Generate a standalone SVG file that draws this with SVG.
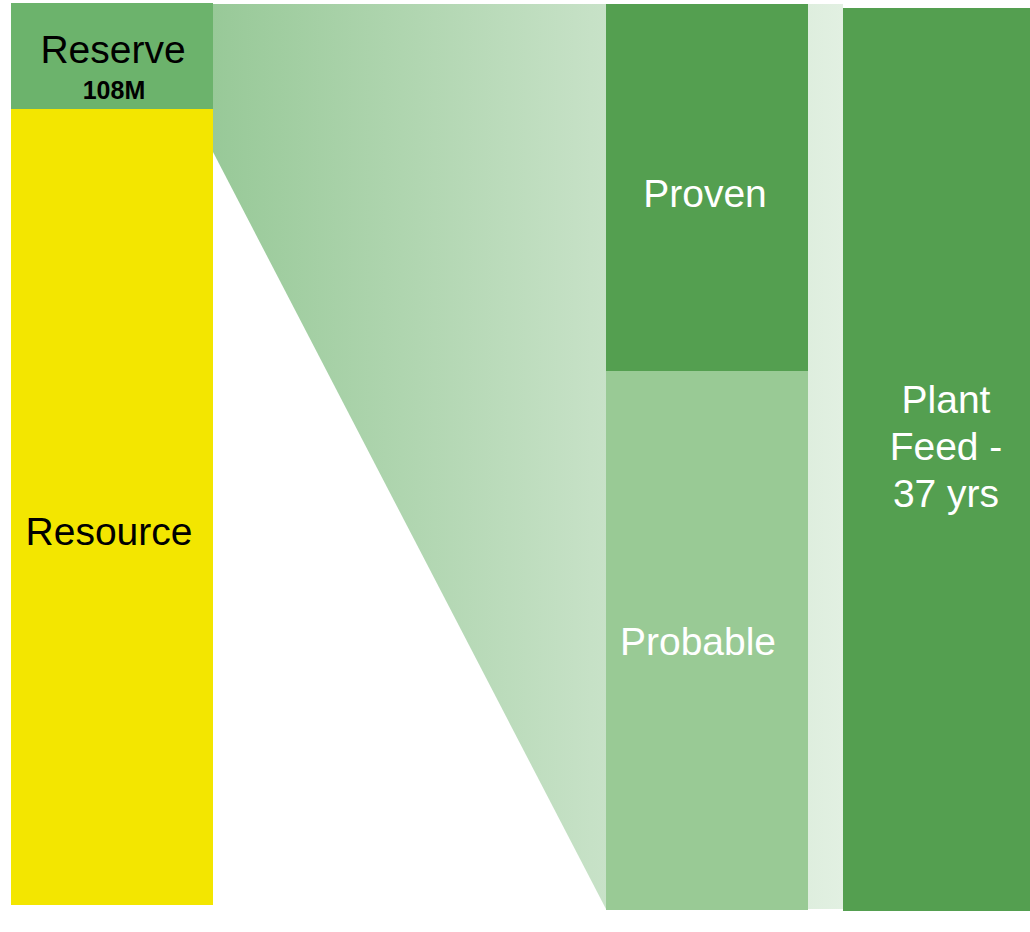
<svg xmlns="http://www.w3.org/2000/svg" width="1030" height="932" viewBox="0 0 1030 932">
  <defs>
    <linearGradient id="fan" gradientUnits="userSpaceOnUse" x1="213" y1="0" x2="843" y2="0">
      <stop offset="0" stop-color="#98c998"/>
      <stop offset="0.6" stop-color="#c6e1c6"/>
      <stop offset="1" stop-color="#e2f0e2"/>
    </linearGradient>
  </defs>
  <style>
    .lbl { font-family: "Liberation Sans", Arial, sans-serif; font-size: 39px; text-anchor: middle; }
    .dark { fill: #000000; }
    .light { fill: #ffffff; }
  </style>
  <rect x="0" y="0" width="1030" height="932" fill="#ffffff"/>
  <g id="connectors">
    <polygon points="213,4 843,4 843,909 606,909 213,152" fill="url(#fan)"/>
  </g>
  <g id="resource">
    <rect x="11" y="109" width="202" height="796" fill="#f3e600"/>
    <text class="lbl dark" x="109" y="545">Resource</text>
  </g>
  <g id="reserve">
    <rect x="11" y="3" width="202" height="106" fill="#6cb36c"/>
    <text class="lbl dark" x="113" y="63">Reserve</text>
    <text x="114" y="99" font-family="Liberation Sans, Arial, sans-serif" font-size="25" font-weight="bold" text-anchor="middle" fill="#000000">108M</text>
  </g>
  <g id="proven">
    <rect x="606" y="4" width="202" height="367" fill="#549f50"/>
    <text class="lbl light" x="705" y="207">Proven</text>
  </g>
  <g id="probable">
    <rect x="606" y="371" width="202" height="539" fill="#99ca95"/>
    <text class="lbl light" x="698" y="655">Probable</text>
  </g>
  <g id="plant-feed">
    <rect x="843" y="8" width="187" height="903" fill="#549f50"/>
    <text class="lbl light" x="946" y="413">Plant</text>
    <text class="lbl light" x="946" y="460">Feed -</text>
    <text class="lbl light" x="946" y="507">37 yrs</text>
  </g>
</svg>
